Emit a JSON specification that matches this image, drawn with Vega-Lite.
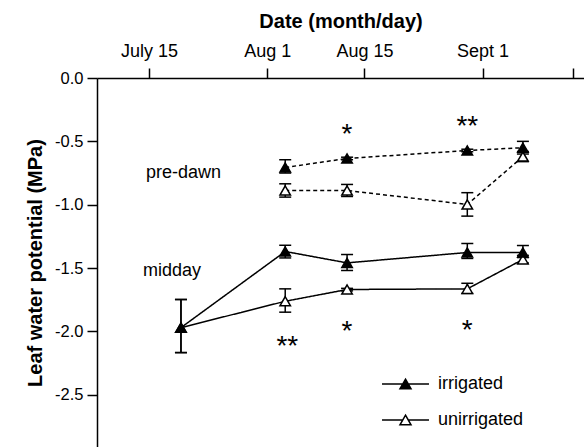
{
  "$schema": "https://vega.github.io/schema/vega-lite/v6.json",
  "width": 487,
  "height": 369,
  "autosize": {"type": "none"},
  "padding": {"left": 97, "top": 78, "right": 0, "bottom": 0},
  "background": "white",
  "config": {
    "font": "Liberation Sans",
    "view": {"stroke": null},
    "axis": {
      "domainColor": "black", "domainWidth": 1.5, "tickColor": "black", "tickWidth": 1.5, "tickSize": 10,
      "labelColor": "black", "titleColor": "black", "grid": false,
      "labelFont": "Liberation Sans", "titleFont": "Liberation Sans"
    }
  },
  "datasets": {
    "pts": [
      {"period": "midday", "treatment": "unirrigated", "day": 18.6, "mean": -1.97, "lo": -2.167, "hi": -1.748},
      {"period": "midday", "treatment": "unirrigated", "day": 33.6, "mean": -1.762, "lo": -1.848, "hi": -1.664},
      {"period": "midday", "treatment": "unirrigated", "day": 42.5, "mean": -1.669, "lo": -1.68, "hi": -1.66},
      {"period": "midday", "treatment": "unirrigated", "day": 59.8, "mean": -1.664, "lo": -1.70, "hi": -1.62},
      {"period": "midday", "treatment": "unirrigated", "day": 67.8, "mean": -1.432, "lo": -1.46, "hi": -1.40},
      {"period": "pre-dawn", "treatment": "unirrigated", "day": 33.6, "mean": -0.888, "lo": -0.94, "hi": -0.835},
      {"period": "pre-dawn", "treatment": "unirrigated", "day": 42.5, "mean": -0.888, "lo": -0.935, "hi": -0.84},
      {"period": "pre-dawn", "treatment": "unirrigated", "day": 59.8, "mean": -0.998, "lo": -1.09, "hi": -0.905},
      {"period": "pre-dawn", "treatment": "unirrigated", "day": 67.8, "mean": -0.62, "lo": -0.66, "hi": -0.58},
      {"period": "midday", "treatment": "irrigated", "day": 18.6, "mean": -1.97, "lo": -2.167, "hi": -1.748},
      {"period": "midday", "treatment": "irrigated", "day": 33.6, "mean": -1.369, "lo": -1.42, "hi": -1.32},
      {"period": "midday", "treatment": "irrigated", "day": 42.5, "mean": -1.459, "lo": -1.519, "hi": -1.393},
      {"period": "midday", "treatment": "irrigated", "day": 59.8, "mean": -1.377, "lo": -1.424, "hi": -1.306},
      {"period": "midday", "treatment": "irrigated", "day": 67.8, "mean": -1.377, "lo": -1.417, "hi": -1.322},
      {"period": "pre-dawn", "treatment": "irrigated", "day": 33.6, "mean": -0.706, "lo": -0.75, "hi": -0.645},
      {"period": "pre-dawn", "treatment": "irrigated", "day": 42.5, "mean": -0.635, "lo": -0.645, "hi": -0.625},
      {"period": "pre-dawn", "treatment": "irrigated", "day": 59.8, "mean": -0.572, "lo": -0.582, "hi": -0.562},
      {"period": "pre-dawn", "treatment": "irrigated", "day": 67.8, "mean": -0.55, "lo": -0.6, "hi": -0.5}
    ],
    "stars": [
      {"day": 42.5, "value": -0.51, "label": "*"},
      {"day": 59.8, "value": -0.447, "label": "**"},
      {"day": 33.9, "value": -2.183, "label": "**"},
      {"day": 42.5, "value": -2.065, "label": "*"},
      {"day": 59.8, "value": -2.057, "label": "*"}
    ],
    "labels": [
      {"day": 13.57, "value": -0.788, "label": "pre-dawn"},
      {"day": 13.14, "value": -1.559, "label": "midday"}
    ]
  },
  "layer": [
    {
      "data": {"name": "pts"},
      "mark": {"type": "line", "color": "black", "strokeWidth": 1.5},
      "encoding": {
        "x": {
          "field": "day", "type": "quantitative",
          "scale": {"domain": [6.52, 76.59], "nice": false, "zero": false},
          "axis": {
            "orient": "top", "values": [14, 31, 45, 62, 75],
            "labelExpr": "datum.value == 14 ? 'July 15' : datum.value == 31 ? 'Aug 1' : datum.value == 45 ? 'Aug 15' : datum.value == 62 ? 'Sept 1' : ''",
            "labelFontSize": 18, "labelPadding": 8, "labelFlush": false, "labelOverlap": false,
            "title": "Date (month/day)", "titleFontSize": 20, "titleFontWeight": "bold", "titlePadding": 11
          }
        },
        "y": {
          "field": "mean", "type": "quantitative",
          "scale": {"domain": [-2.912, 0], "nice": false, "zero": false},
          "axis": {
            "values": [0, -0.5, -1, -1.5, -2, -2.5],
            "labelExpr": "datum.value == 0 ? '0.0' : '-' + format(-datum.value, '.1f')",
            "labelFontSize": 16.5, "labelPadding": 4,
            "title": "Leaf water potential (MPa)", "titleFontSize": 20, "titleFontWeight": "bold", "titlePadding": 9
          }
        },
        "detail": [{"field": "period"}, {"field": "treatment"}],
        "strokeDash": {
          "field": "period", "type": "nominal",
          "scale": {"domain": ["pre-dawn", "midday"], "range": [[4, 3], [1, 0]]},
          "legend": null
        }
      }
    },
    {
      "data": {"name": "pts"},
      "mark": {"type": "rule", "color": "black", "strokeWidth": 1.5},
      "encoding": {
        "x": {"field": "day", "type": "quantitative"},
        "y": {"field": "lo", "type": "quantitative"},
        "y2": {"field": "hi"}
      }
    },
    {
      "data": {"name": "pts"},
      "mark": {"type": "tick", "orient": "horizontal", "color": "black", "size": 12, "thickness": 1.5, "opacity": 1},
      "encoding": {
        "x": {"field": "day", "type": "quantitative"},
        "y": {"field": "lo", "type": "quantitative"}
      }
    },
    {
      "data": {"name": "pts"},
      "mark": {"type": "tick", "orient": "horizontal", "color": "black", "size": 12, "thickness": 1.5, "opacity": 1},
      "encoding": {
        "x": {"field": "day", "type": "quantitative"},
        "y": {"field": "hi", "type": "quantitative"}
      }
    },
    {
      "data": {"name": "pts"},
      "mark": {"type": "point", "shape": "triangle-up", "filled": true, "size": 110, "stroke": "black", "strokeWidth": 1.5, "opacity": 1},
      "encoding": {
        "x": {"field": "day", "type": "quantitative"},
        "y": {"field": "mean", "type": "quantitative"},
        "fill": {
          "field": "treatment", "type": "nominal",
          "scale": {"domain": ["irrigated", "unirrigated"], "range": ["black", "white"]},
          "legend": {
            "title": null, "orient": "none", "legendX": 299.5, "legendY": 297,
            "symbolType": "M-4.27,0H-0.5M0.5,0H4.27M0,-0.866L1,0.866L-1,0.866Z",
            "symbolSize": 121, "symbolStrokeColor": "black", "symbolStrokeWidth": 1.5, "symbolOpacity": 1,
            "labelFontSize": 18, "labelColor": "black", "labelFont": "Liberation Sans",
            "labelOffset": 23.5, "rowPadding": 18, "padding": 0
          }
        }
      }
    },
    {
      "data": {"name": "stars"},
      "mark": {"type": "text", "fontSize": 28, "align": "center", "baseline": "alphabetic", "color": "black"},
      "encoding": {
        "x": {"field": "day", "type": "quantitative"},
        "y": {"field": "value", "type": "quantitative"},
        "text": {"field": "label"}
      }
    },
    {
      "data": {"name": "labels"},
      "mark": {"type": "text", "fontSize": 18, "align": "left", "baseline": "alphabetic", "color": "black"},
      "encoding": {
        "x": {"field": "day", "type": "quantitative"},
        "y": {"field": "value", "type": "quantitative"},
        "text": {"field": "label"}
      }
    }
  ]
}
